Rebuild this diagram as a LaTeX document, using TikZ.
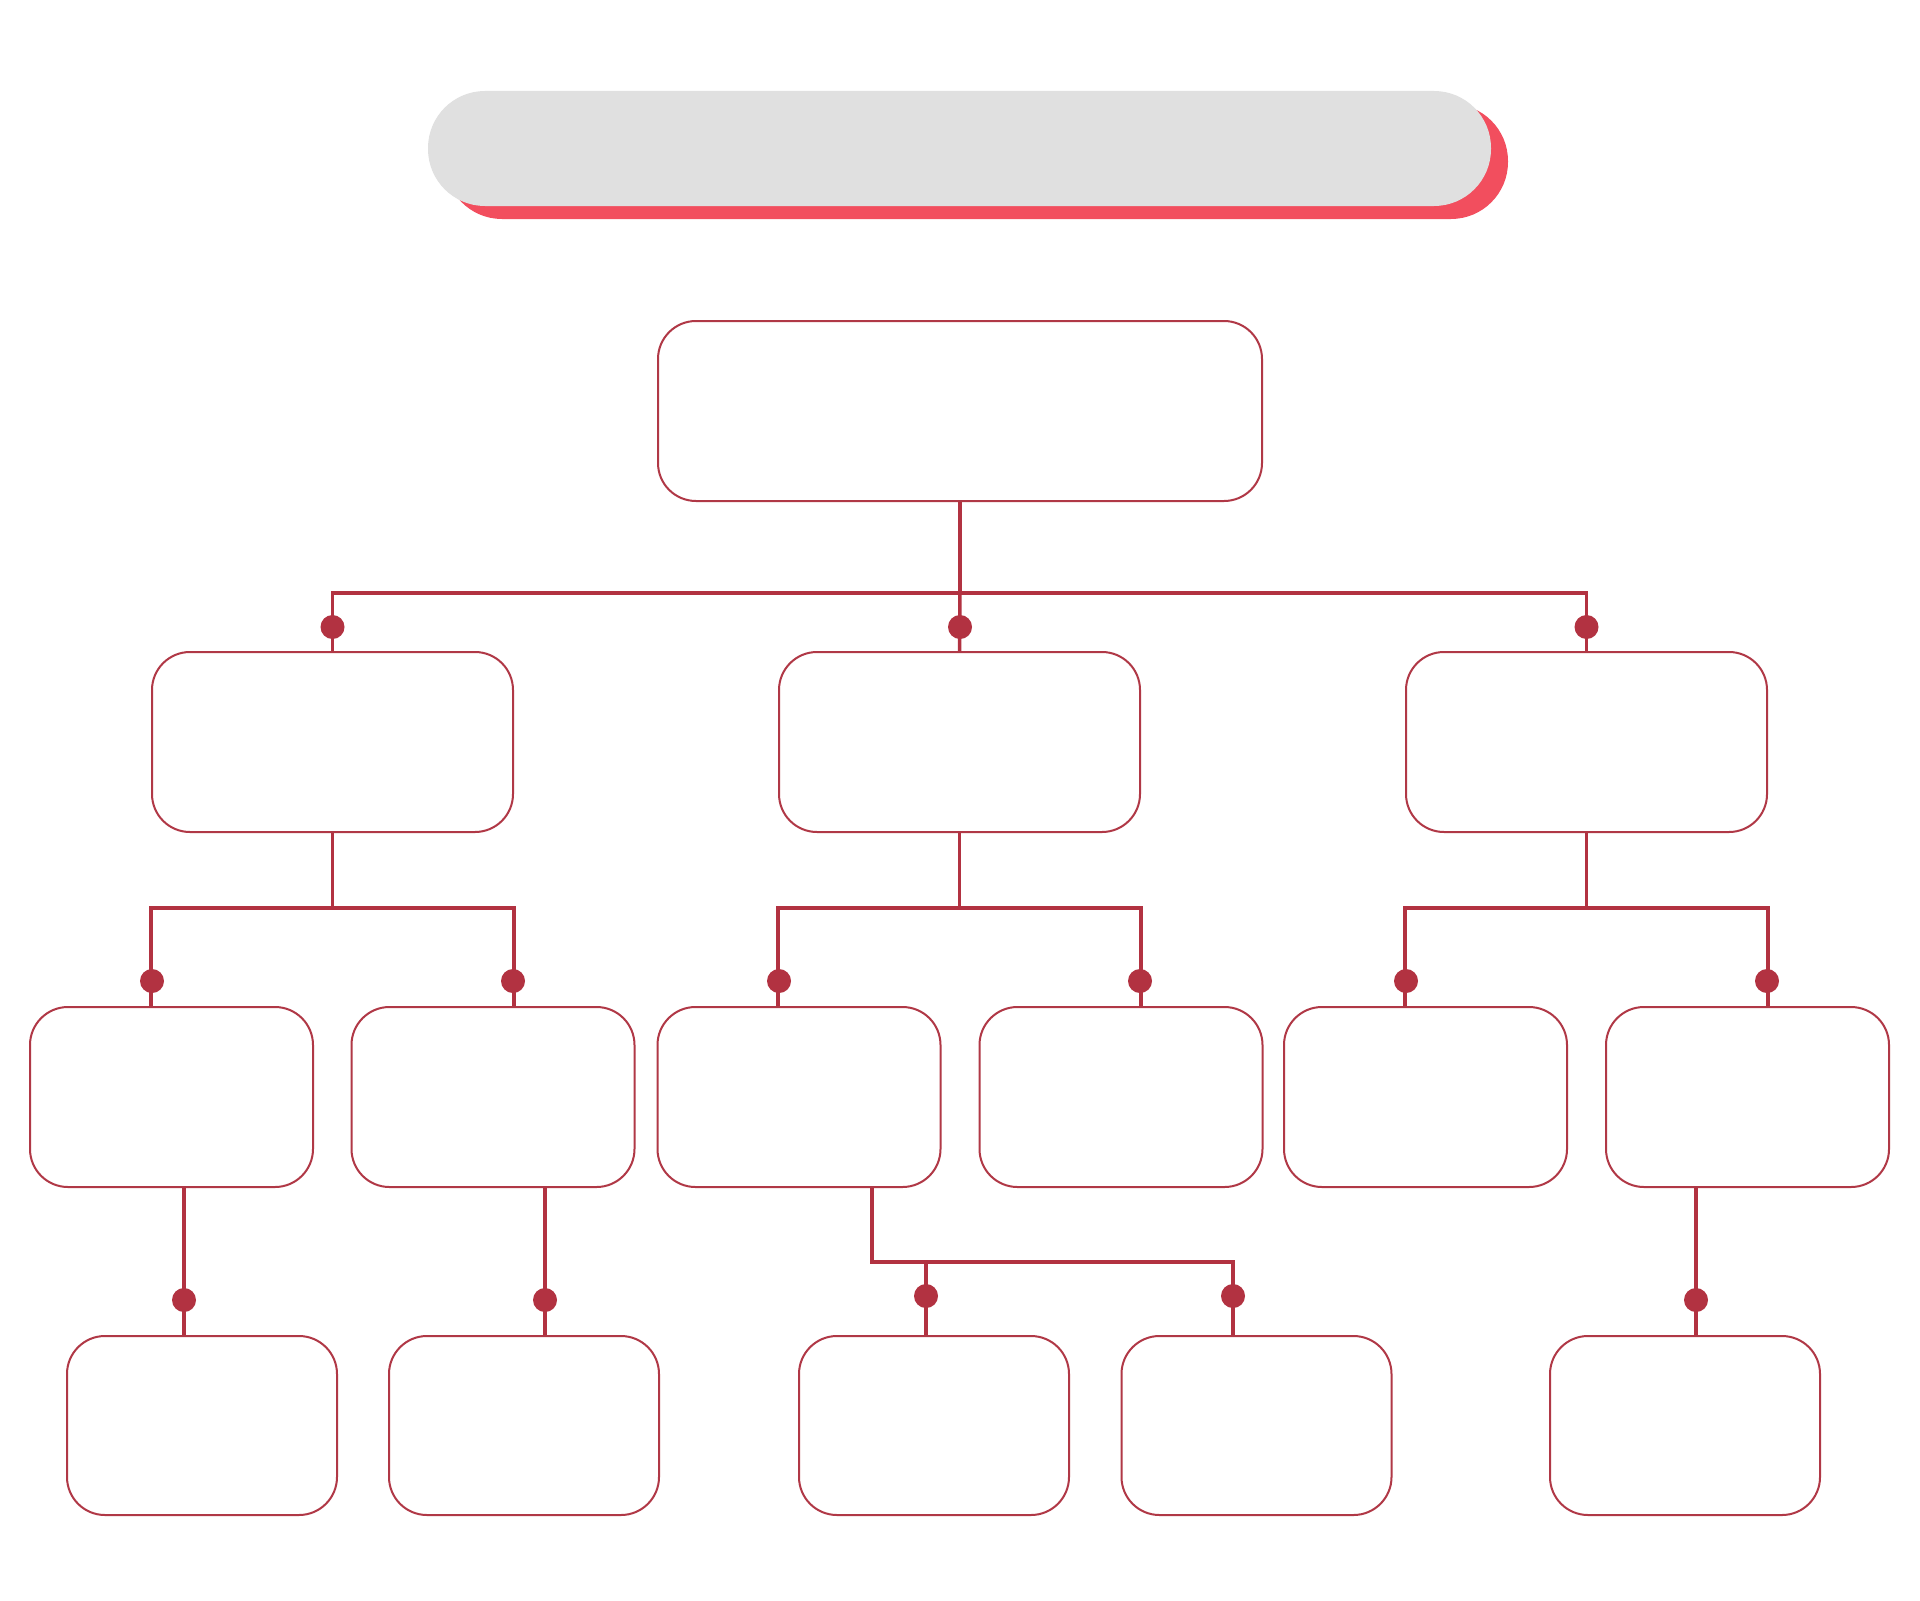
\documentclass[tikz,border=0pt]{standalone}
\definecolor{connred}{RGB}{178,50,65}
\definecolor{cardline}{RGB}{176,56,70}
\definecolor{bargray}{RGB}{224,224,224}
\definecolor{shadowred}{RGB}{242,78,94}
\begin{document}
\begin{tikzpicture}[x=0.5pt,y=-0.5pt,
  card/.style={draw=cardline,line width=1pt,fill=white,rounded corners=19pt,inner sep=0pt},
  cardA/.style={card,minimum width=302pt,minimum height=90pt},
  cardB/.style={card,minimum width=180.5pt,minimum height=90pt},
  cardC/.style={card,minimum width=141.5pt,minimum height=90pt},
  cardD/.style={card,minimum width=135pt,minimum height=89.5pt},
  conn/.style={draw=connred,line width=1.75pt},
  dot/.style={circle,fill=connred,minimum size=12pt,inner sep=0pt},
  barstyle/.style={rounded corners=28.5pt,minimum width=531.5pt,minimum height=57.5pt,inner sep=0pt}]
\useasboundingbox (0,0) rectangle (1920,1600);
\fill[white] (0,0) rectangle (1920,1600);
% title bar
\node[barstyle,fill=shadowred] (barshadow) at (976.5,161.5) {};
\node[barstyle,fill=bargray] (bar) at (959.5,148.5) {};
% boxes
\node[cardA] (top) at (960,411) {};
\node[cardB] (b2a) at (332.5,742) {};
\node[cardB] (b2b) at (959.5,742) {};
\node[cardB] (b2c) at (1586.5,742) {};
\node[cardC] (b3a) at (171.5,1097) {};
\node[cardC] (b3b) at (493,1097) {};
\node[cardC] (b3c) at (799,1097) {};
\node[cardC] (b3d) at (1121,1097) {};
\node[cardC] (b3e) at (1425.5,1097) {};
\node[cardC] (b3f) at (1747.5,1097) {};
\node[cardD] (b4a) at (202,1425.5) {};
\node[cardD] (b4b) at (524,1425.5) {};
\node[cardD] (b4c) at (934,1425.5) {};
\node[cardD] (b4d) at (1256.5,1425.5) {};
\node[cardD] (b4e) at (1685,1425.5) {};
% level 1 -> 2
\coordinate (j0) at (960,593);
\draw[conn] (top.south) -- (j0);
\draw[conn] (b2a.north) -- (b2a.north |- j0) -- (b2c.north |- j0) -- (b2c.north);
\draw[conn] (j0) -- (b2b.north);
\node[dot] (d1) at (332.5,627) {};
\node[dot] (d2) at (960,627) {};
\node[dot] (d3) at (1586.5,627) {};
% level 2 -> 3
\coordinate (ja) at (332.5,908);
\coordinate (jb) at (959.5,908);
\coordinate (jc) at (1586.5,908);
\draw[conn] (b2a.south) -- (ja);
\draw[conn] (b2b.south) -- (jb);
\draw[conn] (b2c.south) -- (jc);
\draw[conn] (b3a.north -| b2a.west) -- (b2a.west |- ja) -- (b2a.east |- ja) -- (b3b.north -| b2a.east);
\draw[conn] (b3c.north -| b2b.west) -- (b2b.west |- jb) -- (b2b.east |- jb) -- (b3d.north -| b2b.east);
\draw[conn] (b3e.north -| b2c.west) -- (b2c.west |- jc) -- (b2c.east |- jc) -- (b3f.north -| b2c.east);
\node[dot] (d4) at (152,981) {};
\node[dot] (d5) at (513,981) {};
\node[dot] (d6) at (779,981) {};
\node[dot] (d7) at (1140,981) {};
\node[dot] (d8) at (1406,981) {};
\node[dot] (d9) at (1767,981) {};
% level 3 -> 4
\coordinate (xa) at (184,0);
\coordinate (xb) at (545,0);
\coordinate (xf) at (1696,0);
\draw[conn] (b3a.south -| xa) -- (b4a.north -| xa);
\draw[conn] (b3b.south -| xb) -- (b4b.north -| xb);
\draw[conn] (b3f.south -| xf) -- (b4e.north -| xf);
\node[dot] (d10) at (184,1300) {};
\node[dot] (d11) at (545,1300) {};
\node[dot] (d12) at (1696,1300) {};
\coordinate (jd) at (872,1262);
\coordinate (xc) at (926,0);
\coordinate (xd) at (1233,0);
\draw[conn] (b3c.south -| jd) -- (jd) -- (jd -| xd) -- (b4d.north -| xd);
\draw[conn] (jd -| xc) -- (b4c.north -| xc);
\node[dot] (d13) at (926,1296) {};
\node[dot] (d14) at (1233,1296) {};
\end{tikzpicture}
\end{document}
